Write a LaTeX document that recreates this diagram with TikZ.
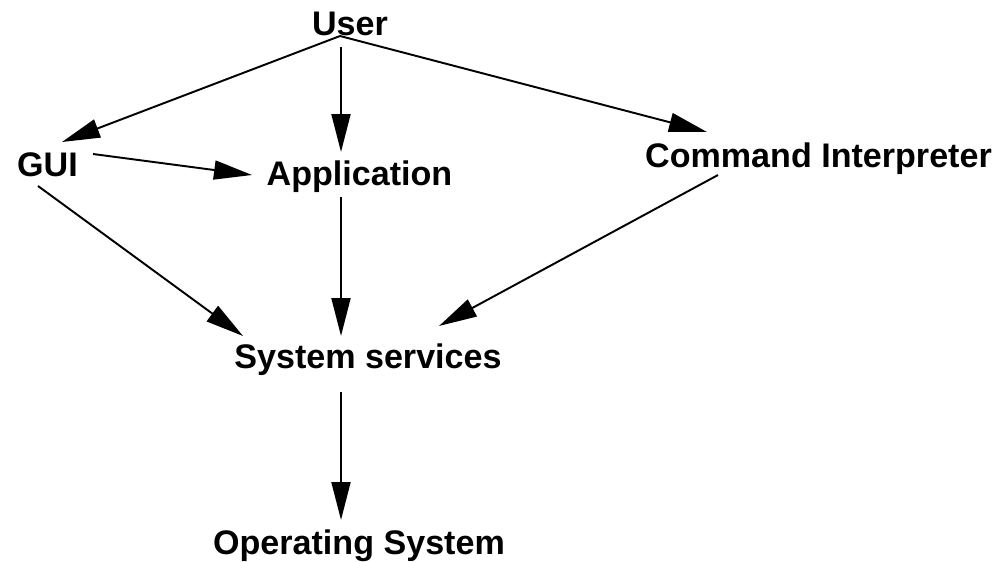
\documentclass[tikz,border=0pt]{standalone}
\usepackage{fontspec}
\setmainfont{Liberation Sans}
\usetikzlibrary{arrows.meta}
\definecolor{inkblack}{HTML}{000000}

\begin{document}
\begin{tikzpicture}[
    lbl/.style={font=\fontsize{19.4}{23}\selectfont\bfseries, inner sep=0pt, anchor=base, text=inkblack},
    conn/.style={-{Triangle[length=0.76cm, width=0.38cm]}, line width=1.1pt, draw=inkblack}]
  \useasboundingbox (0,0) rectangle (20.02,-11.22);

  % Capas
  \node[lbl] (user) at (7.00,-0.70) {User};
  \node[lbl] (gui) at (0.95,-3.52) {GUI};
  \node[lbl] (app) at (7.19,-3.70) {Application};
  \node[lbl] (cmd) at (16.37,-3.34) {Command Interpreter};
  \node[lbl] (sys) at (7.36,-7.36) {System services};
  \node[lbl] (os) at (7.18,-11.08) {Operating System};

  % Desde el usuario
  \draw[conn] ([shift={(-0.20,-0.02)}]user.base) -- ([shift={(0.29,0.68)}]gui.base);
  \draw[conn] ([shift={(-0.18,-0.24)}]user.base) -- ([shift={(-0.37,0.66)}]app.base);
  \draw[conn] ([shift={(-0.20,-0.02)}]user.base) -- ([shift={(-2.23,0.70)}]cmd.base);

  % GUI hacia la aplicacion
  \draw[conn] ([shift={(0.91,0.44)}]gui.base) -- ([shift={(-2.15,0.20)}]app.base);

  % Hacia los servicios del sistema
  \draw[conn] ([shift={(-0.19,-0.20)}]gui.base) -- ([shift={(-2.50,0.64)}]sys.base);
  \draw[conn] ([shift={(-0.37,-0.24)}]app.base) -- ([shift={(-0.54,0.64)}]sys.base);
  \draw[conn] ([shift={(-2.01,-0.16)}]cmd.base) -- ([shift={(1.42,0.84)}]sys.base);

  % Servicios hacia el sistema operativo
  \draw[conn] ([shift={(-0.54,-0.48)}]sys.base) -- ([shift={(-0.36,0.68)}]os.base);
\end{tikzpicture}
\end{document}
